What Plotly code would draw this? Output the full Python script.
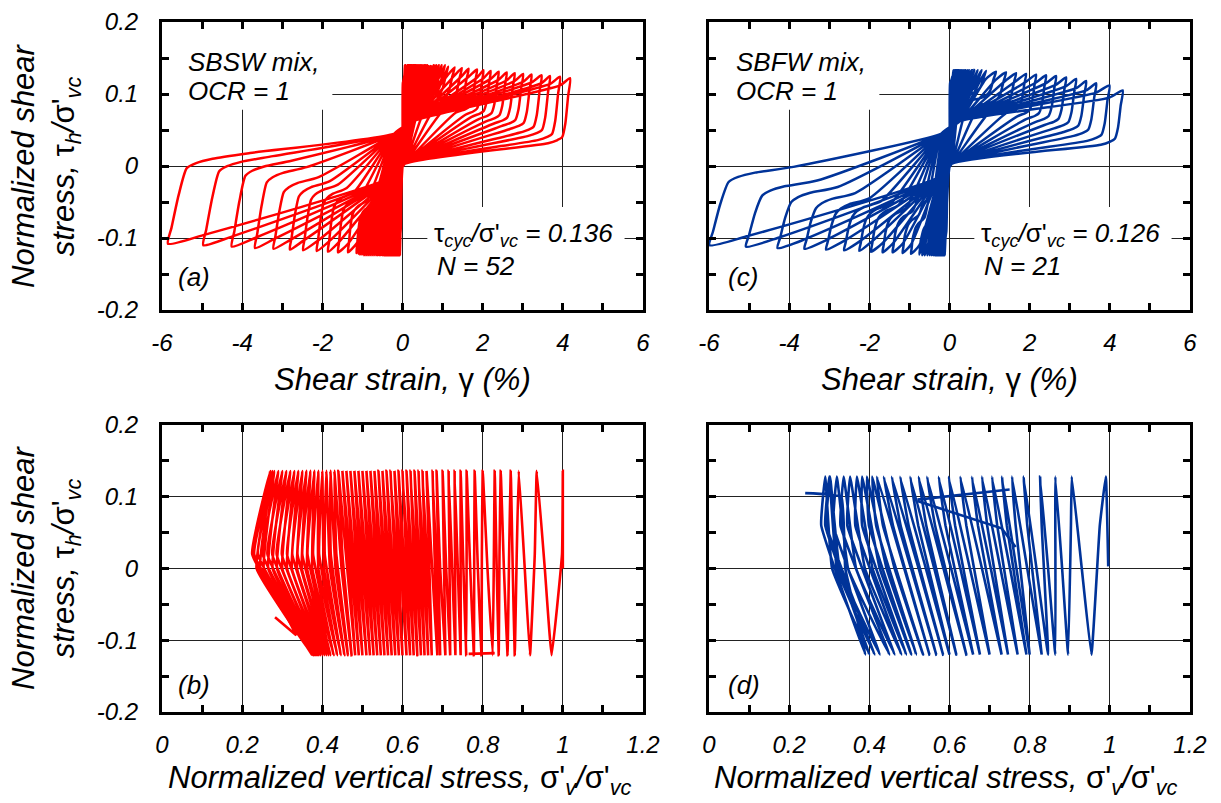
import numpy as np
import plotly.graph_objects as go

FIG_W, FIG_H = 1221, 803
FONT = "Liberation Sans, Arial, Helvetica, sans-serif"
RED = "#FF0000"
BLUE = "#003399"

# ---------------- Panel (a): SBSW mix, peaks of each load cycle ----------------
gamma_pos_a = [0.06, 0.07, 0.08, 0.09, 0.10, 0.11, 0.12, 0.13, 0.14, 0.15,
               0.16, 0.17, 0.18, 0.19, 0.20, 0.21, 0.22, 0.23, 0.24, 0.26,
               0.28, 0.30, 0.32, 0.34, 0.36, 0.38, 0.41, 0.44, 0.47, 0.50,
               0.54, 0.58, 0.62, 0.67, 0.72, 0.78, 0.84, 0.91, 0.98, 1.06,
               1.14, 1.30, 1.48, 1.65, 1.86, 2.02, 2.20, 2.40, 2.60, 2.80,
               3.01, 3.22, 3.47, 3.68, 3.93, 4.18]
gamma_neg_a = [-0.065, -0.07, -0.075, -0.08, -0.09, -0.10, -0.11, -0.12, -0.13, -0.14,
               -0.15, -0.16, -0.17, -0.18, -0.19, -0.20, -0.21, -0.22, -0.23, -0.24,
               -0.25, -0.27, -0.29, -0.31, -0.33, -0.35, -0.37, -0.40, -0.43, -0.46,
               -0.50, -0.54, -0.58, -0.62, -0.66, -0.71, -0.76, -0.81, -0.86, -0.91,
               -0.96, -1.01, -1.06, -1.10, -1.15, -1.36, -1.61, -1.86, -2.14, -2.48,
               -2.81, -3.22, -3.68, -4.26, -4.97, -5.85]
tau_pos_a = [0.140, 0.140, 0.140, 0.140, 0.140, 0.140, 0.140, 0.140, 0.140, 0.140,
             0.140, 0.140, 0.140, 0.140, 0.140, 0.140, 0.140, 0.140, 0.140, 0.140,
             0.140, 0.140, 0.140, 0.140, 0.140, 0.140, 0.140, 0.140, 0.140, 0.140,
             0.140, 0.140, 0.140, 0.140, 0.140, 0.140, 0.140, 0.140, 0.140, 0.140,
             0.138, 0.137, 0.136, 0.135, 0.134, 0.133, 0.132, 0.131, 0.130, 0.129,
             0.128, 0.127, 0.126, 0.125, 0.124, 0.122]
tau_neg_a = [-0.124, -0.124, -0.124, -0.124, -0.124, -0.124, -0.124, -0.124, -0.124, -0.124,
             -0.124, -0.124, -0.124, -0.124, -0.124, -0.124, -0.124, -0.124, -0.124, -0.124,
             -0.124, -0.124, -0.124, -0.124, -0.124, -0.124, -0.124, -0.124, -0.124, -0.124,
             -0.124, -0.124, -0.124, -0.124, -0.124, -0.124, -0.124, -0.124, -0.124, -0.124,
             -0.124, -0.123, -0.123, -0.122, -0.121, -0.120, -0.120, -0.119, -0.118, -0.117,
             -0.116, -0.115, -0.114, -0.112, -0.110, -0.108]

# ---------------- Panel (c): SBFW mix, peaks of each load cycle ----------------
gamma_pos_c = [0.10, 0.12, 0.14, 0.16, 0.18, 0.20, 0.22, 0.24, 0.26, 0.28,
               0.30, 0.33, 0.36, 0.40, 0.44, 0.49, 0.55, 0.62, 0.70, 0.80,
               0.91, 1.16, 1.41, 1.66, 1.91, 2.16, 2.41, 2.66, 2.91, 3.16,
               3.41, 3.66, 3.99, 4.32]
gamma_neg_c = [-0.12, -0.13, -0.14, -0.15, -0.16, -0.17, -0.18, -0.20, -0.22, -0.24,
               -0.26, -0.28, -0.30, -0.33, -0.36, -0.40, -0.44, -0.49, -0.55, -0.62,
               -0.68, -0.75, -0.96, -1.17, -1.42, -1.67, -1.96, -2.25, -2.63, -3.08,
               -3.62, -4.29, -5.08, -5.99]
tau_pos_c = [0.133, 0.133, 0.133, 0.133, 0.133, 0.133, 0.133, 0.133, 0.133, 0.133,
             0.133, 0.133, 0.133, 0.133, 0.133, 0.133, 0.133, 0.133, 0.133, 0.133,
             0.132, 0.131, 0.130, 0.129, 0.128, 0.127, 0.126, 0.125, 0.123, 0.121,
             0.118, 0.115, 0.112, 0.105]
tau_neg_c = [-0.124, -0.124, -0.124, -0.124, -0.124, -0.124, -0.124, -0.124, -0.124, -0.124,
             -0.124, -0.124, -0.124, -0.124, -0.124, -0.124, -0.124, -0.124, -0.124, -0.124,
             -0.124, -0.123, -0.122, -0.121, -0.120, -0.120, -0.119, -0.118, -0.117, -0.116,
             -0.115, -0.114, -0.112, -0.110]

# ---------------- loop shape ----------------
# stress at the rounded corner after reversal, vs. peak strain of the loop
corner_strain_neg_a = [0.1, 0.5, 1.0, 1.5, 2.1, 3.2, 3.7, 4.3, 5.0, 5.85]
corner_tau_neg_a = [-0.100, -0.085, -0.070, -0.058, -0.045, -0.030, -0.015, -0.006, 0.000, 0.004]
corner_strain_neg_c = [0.1, 0.5, 1.0, 1.5, 2.0, 3.0, 3.6, 4.3, 5.1, 6.0]
corner_tau_neg_c = [-0.105, -0.095, -0.085, -0.075, -0.068, -0.060, -0.052, -0.043, -0.034, -0.015]
corner_strain_pos = [0.1, 0.5, 1.0, 1.5, 2.0, 2.5, 3.0, 3.5, 3.9, 4.3]
corner_tau_pos = [0.122, 0.112, 0.100, 0.088, 0.078, 0.070, 0.062, 0.052, 0.043, 0.036]
# width of the unloading edge (fraction of the peak strain) vs. peak strain
edge_strain_pos = [0.1, 0.6, 1.2, 2.0, 4.3]
edge_frac_pos = [0.30, 0.30, 0.20, 0.08, 0.045]
# points where loading / unloading branches cross the centre band
centre_up = [(-0.20, 0.045), (0.25, 0.062)]
centre_down = [(0.05, 0.003), (-0.25, -0.015)]

# ---------------- Panel (b): stress path, SBSW ----------------
sv_top_b = [1.00, 0.935, 0.89, 0.87, 0.845, 0.83, 0.80, 0.78, 0.76, 0.745,
            0.73, 0.715, 0.70, 0.685, 0.675, 0.66, 0.65, 0.64, 0.63, 0.62,
            0.61, 0.60, 0.59, 0.58, 0.57, 0.56, 0.55, 0.54, 0.53, 0.52,
            0.51, 0.50, 0.49, 0.48, 0.47, 0.46, 0.45, 0.44, 0.43, 0.42,
            0.41, 0.40, 0.39, 0.38, 0.37, 0.36, 0.35, 0.34, 0.33, 0.32,
            0.31, 0.30, 0.29, 0.28, 0.275, 0.27]
sv_bot_b = [0.972, 0.918, 0.88, 0.862, 0.84, 0.825, 0.797, 0.778, 0.759, 0.745,
            0.732, 0.719, 0.707, 0.694, 0.687, 0.673, 0.664, 0.655, 0.646, 0.637,
            0.628, 0.619, 0.61, 0.60, 0.591, 0.582, 0.573, 0.564, 0.555, 0.546,
            0.537, 0.528, 0.519, 0.51, 0.50, 0.491, 0.482, 0.473, 0.464, 0.455,
            0.446, 0.437, 0.428, 0.42, 0.415, 0.41, 0.405, 0.40, 0.395, 0.39,
            0.387, 0.384, 0.381, 0.378, 0.376, 0.375]
sv_mid_dn_b = [0.998, 0.93, 0.885, 0.866, 0.842, 0.828, 0.798, 0.779, 0.76, 0.745,
               0.731, 0.717, 0.703, 0.689, 0.68, 0.666, 0.656, 0.647, 0.637, 0.628,
               0.618, 0.609, 0.599, 0.589, 0.58, 0.57, 0.56, 0.551, 0.541, 0.532,
               0.522, 0.513, 0.503, 0.493, 0.484, 0.474, 0.464, 0.45, 0.435, 0.421,
               0.406, 0.392, 0.377, 0.363, 0.35, 0.338, 0.325, 0.312, 0.299, 0.286,
               0.275, 0.263, 0.251, 0.239, 0.23, 0.225]
sv_mid_up_b = [0.955, 0.905, 0.875, 0.853, 0.835, 0.812, 0.788, 0.769, 0.752, 0.738,
               0.724, 0.709, 0.694, 0.685, 0.674, 0.662, 0.653, 0.643, 0.634, 0.624,
               0.615, 0.605, 0.596, 0.586, 0.576, 0.567, 0.557, 0.548, 0.539, 0.529,
               0.52, 0.51, 0.501, 0.491, 0.481, 0.472, 0.462, 0.448, 0.433, 0.419,
               0.404, 0.39, 0.375, 0.362, 0.349, 0.337, 0.324, 0.312, 0.30, 0.287,
               0.276, 0.265, 0.254, 0.245, 0.236]
tau_levels_b = [0.136, 0.02, -0.121, 0.0]   # top, descending mid, bottom, ascending mid
start_b = (1.0, 0.0)
extra_sv_b = [0.765, 0.83, None, 0.282, 0.335, 0.305]
extra_tau_b = [-0.119, -0.118, None, -0.068, -0.093, -0.060]

# ---------------- Panel (d): stress path, SBFW ----------------
sv_top_d = [0.99, 0.905, 0.864, 0.826, 0.785, 0.756, 0.731, 0.706, 0.681, 0.656,
            0.627, 0.598, 0.573, 0.544, 0.523, 0.502, 0.477, 0.456, 0.436, 0.419,
            0.407, 0.394, 0.382, 0.369, 0.352, 0.336, 0.319, 0.302, 0.30, 0.29]
sv_bot_d = [0.954, 0.896, 0.864, 0.846, 0.83, 0.80, 0.792, 0.77, 0.746, 0.73,
            0.70, 0.676, 0.659, 0.642, 0.617, 0.60, 0.584, 0.567, 0.55, 0.534,
            0.517, 0.505, 0.492, 0.48, 0.463, 0.45, 0.426, 0.413, 0.40, 0.39]
sv_mid_dn_d = [0.975, 0.903, 0.864, 0.83, 0.794, 0.765, 0.743, 0.719, 0.694, 0.671,
               0.642, 0.614, 0.59, 0.564, 0.542, 0.522, 0.498, 0.478, 0.459, 0.434,
               0.417, 0.399, 0.382, 0.365, 0.345, 0.328, 0.31, 0.293, 0.29, 0.28]
sv_mid_up_d = [0.93, 0.881, 0.846, 0.817, 0.794, 0.767, 0.751, 0.727, 0.703, 0.681,
               0.651, 0.627, 0.604, 0.585, 0.562, 0.541, 0.523, 0.504, 0.487, 0.463,
               0.443, 0.426, 0.408, 0.389, 0.367, 0.347, 0.326, 0.319, 0.307]
tau_levels_d = [0.128, 0.06, -0.12, 0.0]
start_d = (0.996, 0.003)
end_sv_d = [0.34, 0.33, 0.24]
end_tau_d = [0.0, 0.10, 0.105]
extra_sv_d = [0.52, 0.75, None, 0.52, 0.73, 0.765]
extra_tau_d = [0.096, 0.11, None, 0.094, 0.056, 0.03]

# ---------------- tick labels ----------------
strain_ticks = [-6, -4, -2, 0, 2, 4, 6]
strain_ticktext = ["-6", "-4", "-2", "0", "2", "4", "6"]
strain_minor = [-5, -3, -1, 1, 3, 5]
stress_ticks = [0, 0.2, 0.4, 0.6, 0.8, 1.0, 1.2]
stress_ticktext = ["0", "0.2", "0.4", "0.6", "0.8", "1", "1.2"]
stress_minor = [0.1, 0.3, 0.5, 0.7, 0.9, 1.1]
tau_ticks = [-0.2, -0.1, 0, 0.1, 0.2]
tau_ticktext = ["-0.2", "-0.1", "0", "0.1", "0.2"]
tau_minor = [-0.15, -0.05, 0.05, 0.15]


def keep_monotone(pts, sign):
    out = [pts[0]]
    last = pts[-1]
    for p in pts[1:-1]:
        if sign > 0 and out[-1][0] < p[0] < last[0]:
            out.append(p)
        elif sign < 0 and out[-1][0] > p[0] > last[0]:
            out.append(p)
    out.append(last)
    return out


def ascending(gn, tn, gp_prev, gp, tp, cw, ct, final=False):
    W = abs(gn)
    s = min(1.0, W)
    sp = min(1.0, gp)
    tc = float(np.interp(W, cw, ct))
    pts = [(gn, tn),
           (gn + 0.015 * W, tn + 0.2 * (tc - tn)),
           (gn + 0.045 * W, tn + 0.6 * (tc - tn)),
           (gn + 0.08 * W, tc - 0.007),
           (gn + 0.12 * W, tc),
           (gn + 0.19 * W, tc + 0.006),
           (gn + 0.35 * W, tc + 0.014),
           (centre_up[0][0] * s, centre_up[0][1]),
           (centre_up[1][0] * sp, centre_up[1][1])]
    if final:
        return keep_monotone(pts, 1)
    pts += [(gp_prev, tp - 0.01), (gp, tp)]
    return keep_monotone(pts, 1)


def descending(gp, tp, gn_prev, gn, tn, cw, ct):
    Wp = gp
    W = abs(gn)
    s = min(1.0, W)
    sp = min(1.0, Wp)
    tcp = float(np.interp(Wp, cw, ct))
    k = float(np.interp(Wp, edge_strain_pos, edge_frac_pos)) * Wp
    pts = [(gp, tp),
           (gp - 0.25 * k, tp - 0.3 * (tp - tcp)),
           (gp - 0.6 * k, tp - 0.75 * (tp - tcp)),
           (gp - 1.0 * k, tcp + 0.002),
           (gp - 1.6 * k, tcp - 0.002),
           (gp - 2.8 * k, tcp - 0.0065),
           (centre_down[0][0] * sp, centre_down[0][1]),
           (centre_down[1][0] * s, centre_down[1][1]),
           (gn_prev, tn + 0.012),
           (gn, tn)]
    return keep_monotone(pts, -1)


def strain_path(gp, gn, tp, tn, cwn, ctn):
    xs, ys = [0.0, gp[0]], [0.0, tp[0]]
    n = len(gp)
    for i in range(n):
        gnp = gn[i - 1] if i > 0 else gn[i]
        seg = descending(gp[i], tp[i], gnp, gn[i], tn[i], corner_strain_pos, corner_tau_pos)
        xs += [p[0] for p in seg[1:]]
        ys += [p[1] for p in seg[1:]]
        if i < n - 1:
            seg = ascending(gn[i], tn[i], gp[i], gp[i + 1], tp[i + 1], cwn, ctn)
        else:
            seg = ascending(gn[i], tn[i], 1.0, 1.0, 0.12, cwn, ctn, final=True)
        xs += [p[0] for p in seg[1:]]
        ys += [p[1] for p in seg[1:]]
    return xs, ys


def stress_path(top, bot, mid_dn, mid_up, levels, start):
    xs, ys = [start[0]], [start[1]]
    for i in range(len(top)):
        xs += [top[i], mid_dn[i], bot[i]]
        ys += [levels[0], levels[1], levels[2]]
        if i < len(mid_up):
            xs.append(mid_up[i])
            ys.append(levels[3])
    return xs, ys


xa, ya = strain_path(gamma_pos_a, gamma_neg_a, tau_pos_a, tau_neg_a, corner_strain_neg_a, corner_tau_neg_a)
xc, yc = strain_path(gamma_pos_c, gamma_neg_c, tau_pos_c, tau_neg_c, corner_strain_neg_c, corner_tau_neg_c)
xb, yb = stress_path(sv_top_b, sv_bot_b, sv_mid_dn_b, sv_mid_up_b, tau_levels_b, start_b)
xd, yd = stress_path(sv_top_d, sv_bot_d, sv_mid_dn_d, sv_mid_up_d, tau_levels_d, start_d)
xd += end_sv_d
yd += end_tau_d

fig = go.Figure()
LW = 2.5
LW2 = 2.6
fig.add_trace(go.Scatter(x=xa, y=ya, mode="lines", xaxis="x", yaxis="y",
                         line=dict(color=RED, width=LW, shape="spline", smoothing=0.6)))
fig.add_trace(go.Scatter(x=xb, y=yb, mode="lines", xaxis="x2", yaxis="y2",
                         line=dict(color=RED, width=LW2, shape="spline", smoothing=0.3)))
fig.add_trace(go.Scatter(x=extra_sv_b, y=extra_tau_b, mode="lines", xaxis="x2", yaxis="y2",
                         line=dict(color=RED, width=LW2), connectgaps=False))
fig.add_trace(go.Scatter(x=xc, y=yc, mode="lines", xaxis="x3", yaxis="y3",
                         line=dict(color=BLUE, width=LW, shape="spline", smoothing=0.6)))
fig.add_trace(go.Scatter(x=xd, y=yd, mode="lines", xaxis="x4", yaxis="y4",
                         line=dict(color=BLUE, width=LW2, shape="spline", smoothing=0.3)))
fig.add_trace(go.Scatter(x=extra_sv_d, y=extra_tau_d, mode="lines", xaxis="x4", yaxis="y4",
                         line=dict(color=BLUE, width=LW2), connectgaps=False))


def px_x(p):
    return p / FIG_W


def px_y(p):
    return 1 - p / FIG_H


col_dom = [[px_x(162), px_x(643)], [px_x(709), px_x(1190)]]
row_dom = [[px_y(310), px_y(22)], [px_y(712), px_y(425)]]

tick_font = dict(family=FONT, size=24, color="black", style="italic")


def axis(domain, anchor, rng, tv, tt, minor, labels=True, standoff=9):
    return dict(domain=domain, anchor=anchor, range=rng, tickvals=tv, ticktext=tt,
                showline=True, linewidth=3, linecolor="black", mirror="allticks",
                ticks="inside", ticklen=7, tickwidth=2.5, tickcolor="black",
                showgrid=True, gridcolor="#222222", gridwidth=1, zeroline=False,
                showticklabels=labels, tickfont=tick_font, ticklabelstandoff=standoff,
                minor=dict(tickvals=minor, ticks="inside", ticklen=7, tickwidth=2.5,
                           tickcolor="black", showgrid=False),
                automargin=False, fixedrange=True)


fig.update_layout(
    width=FIG_W, height=FIG_H, autosize=False,
    margin=dict(l=0, r=0, t=0, b=0),
    paper_bgcolor="white", plot_bgcolor="white", showlegend=False,
    xaxis=axis(col_dom[0], "y", [-6, 6], strain_ticks, strain_ticktext, strain_minor),
    yaxis=axis(row_dom[0], "x", [-0.2, 0.2], tau_ticks, tau_ticktext, tau_minor, standoff=16),
    xaxis2=axis(col_dom[0], "y2", [0, 1.2], stress_ticks, stress_ticktext, stress_minor),
    yaxis2=axis(row_dom[1], "x2", [-0.2, 0.2], tau_ticks, tau_ticktext, tau_minor, standoff=16),
    xaxis3=axis(col_dom[1], "y3", [-6, 6], strain_ticks, strain_ticktext, strain_minor),
    yaxis3=axis(row_dom[0], "x3", [-0.2, 0.2], tau_ticks, tau_ticktext, tau_minor, labels=False),
    xaxis4=axis(col_dom[1], "y4", [0, 1.2], stress_ticks, stress_ticktext, stress_minor),
    yaxis4=axis(row_dom[1], "x4", [-0.2, 0.2], tau_ticks, tau_ticktext, tau_minor, labels=False),
)

# white boxes behind the in-panel texts (hide grid lines, below the data)
shapes = []
for xr, yr in [("x", "y"), ("x3", "y3")]:
    shapes.append(dict(type="rect", xref=xr, yref=yr, x0=-5.97, x1=-1.75, y0=0.078, y1=0.197,
                       fillcolor="white", line=dict(width=0), layer="between"))
    shapes.append(dict(type="rect", xref=xr, yref=yr, x0=0.62, x1=5.54, y0=-0.197, y1=-0.057,
                       fillcolor="white", line=dict(width=0), layer="between"))
fig.update_layout(shapes=shapes)

N = '<span style="font-style:normal">'
E = '</span>'
title_font = dict(family=FONT, size=31, color="black", style="italic")
text_font = dict(family=FONT, size=26, color="black", style="italic")
ytitle = "Normalized shear<br>stress, " + N + "τ" + E + "<sub>h</sub>/" + N + "σ'" + E + "<sub>vc</sub>"
xtitle_top = "Shear strain, " + N + "γ" + E + " (%)"
xtitle_bot = "Normalized vertical stress, " + N + "σ'" + E + "<sub>v</sub>/" + N + "σ'" + E + "<sub>vc</sub>"

ann = []
for yc_ in (166, 568):
    ann.append(dict(text=ytitle, x=px_x(46), y=px_y(yc_), xref="paper", yref="paper",
                    xanchor="center", yanchor="middle", textangle=-90, showarrow=False,
                    font=title_font))
for xc_ in (402.5, 949.5):
    ann.append(dict(text=xtitle_top, x=px_x(xc_), y=px_y(379), xref="paper", yref="paper",
                    xanchor="center", yanchor="middle", showarrow=False, font=title_font))
    ann.append(dict(text=xtitle_bot, x=px_x(xc_ - 3), y=px_y(780), xref="paper", yref="paper",
                    xanchor="center", yanchor="middle", showarrow=False, font=title_font))


def label(text, x, y):
    ann.append(dict(text=text, x=px_x(x), y=px_y(y), xref="paper", yref="paper",
                    xanchor="left", yanchor="middle", showarrow=False, font=text_font))


label("SBSW mix,", 186, 62)
label("OCR = 1", 186, 91)
label("SBFW mix,", 734, 62)
label("OCR = 1", 734, 91)
label("(a)", 176, 277)
label("(c)", 726, 277)
label("(b)", 176, 685)
label("(d)", 726, 685)
label(N + "τ" + E + "<sub>cyc</sub>/" + N + "σ'" + E + "<sub>vc</sub> = 0.136", 432, 234)
label("N = 52", 435, 266)
label(N + "τ" + E + "<sub>cyc</sub>/" + N + "σ'" + E + "<sub>vc</sub> = 0.126", 979, 234)
label("N = 21", 982, 266)
fig.update_layout(annotations=ann)

fig.write_html("out.html")
